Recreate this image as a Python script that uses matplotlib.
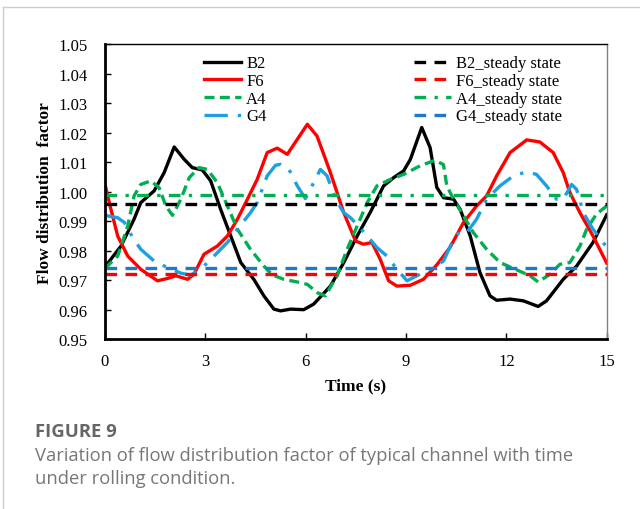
import numpy as np
import matplotlib
matplotlib.use('Agg')
import matplotlib.pyplot as plt
from matplotlib.lines import Line2D

# =============================================================================
#                     Data
# =============================================================================

b2_t = [0.0, 0.48, 0.87, 1.07, 1.47, 1.77, 2.07, 2.37, 2.61, 2.91, 3.16, 3.46,
        3.76, 4.06, 4.45, 4.75, 5.05, 5.25, 5.55, 5.94, 6.24, 6.74, 7.14, 7.54,
        7.93, 8.33, 8.63, 8.93, 9.13, 9.47, 9.72, 9.92, 10.12, 10.42, 10.62,
        10.92, 11.21, 11.51, 11.71, 12.11, 12.51, 12.95, 13.20, 13.70, 14.10,
        14.59, 15.0]
b2_v = [0.9745, 0.9816, 0.9907, 0.9963, 1.0003, 1.0065, 1.0152, 1.0110, 1.0082,
        1.0074, 1.0037, 0.9940, 0.9850, 0.9760, 0.9703, 0.9647, 0.9602, 0.9596,
        0.9602, 0.9600, 0.9619, 0.9680, 0.9760, 0.9850, 0.9930, 1.0020, 1.0048,
        1.0071, 1.0110, 1.0218, 1.0150, 1.0015, 0.9980, 0.9975, 0.9940, 0.9850,
        0.9726, 0.9647, 0.9632, 0.9636, 0.9630, 0.9611, 0.9630, 0.9703, 0.9748,
        0.9828, 0.9922]

f6_t = [0.0, 0.18, 0.38, 0.68, 1.07, 1.57, 1.87, 2.12, 2.47, 2.66, 2.96, 3.36,
        3.66, 3.96, 4.26, 4.55, 4.85, 5.15, 5.45, 5.75, 6.05, 6.34, 6.74, 7.14,
        7.49, 7.73, 7.98, 8.23, 8.48, 8.73, 9.13, 9.52, 9.92, 10.32, 10.72,
        11.11, 11.41, 11.71, 12.11, 12.61, 13.0, 13.40, 13.70, 13.90, 14.20,
        14.59, 15.0]
f6_v = [1.0025, 0.9940, 0.9850, 0.9782, 0.9737, 0.9698, 0.9706, 0.9715, 0.9703,
        0.9720, 0.9788, 0.9816, 0.9850, 0.9907, 0.9975, 1.0042, 1.0133, 1.0148,
        1.0127, 1.0178, 1.0229, 1.0189, 1.0065, 0.9929, 0.9833, 0.9822, 0.9828,
        0.9771, 0.9698, 0.9680, 0.9683, 0.9703, 0.9752, 0.9812, 0.9896, 0.9952,
        0.9986, 1.0054, 1.0133, 1.0176, 1.0169, 1.0133, 1.0065, 0.9997, 0.9929,
        0.9850, 0.9758]

a4_t = [0.0, 0.38, 0.68, 0.87, 1.07, 1.37, 1.62, 1.82, 2.02, 2.27, 2.52, 2.81,
        3.06, 3.36, 3.66, 3.96, 4.35, 4.75, 5.0, 5.35, 5.75, 6.05, 6.34, 6.59,
        6.94, 7.24, 7.54, 7.84, 8.13, 8.53, 8.93, 9.42, 9.87, 10.12, 10.22,
        10.42, 10.72, 11.01, 11.41, 11.81, 12.31, 12.71, 12.95, 13.30, 13.60,
        13.90, 14.20, 14.40, 14.69, 15.0]
a4_v = [0.9740, 0.9782, 0.9884, 0.9986, 1.0025, 1.0037, 1.0014, 0.9952, 0.9920,
        0.9975, 1.0048, 1.0082, 1.0076, 1.0031, 0.9952, 0.9873, 0.9805, 0.9748,
        0.9718, 0.9703, 0.9694, 0.9686, 0.9658, 0.9647, 0.9715, 0.9805, 0.9884,
        0.9963, 1.0020, 1.0042, 1.0059, 1.0088, 1.0107, 1.0092, 1.0020, 0.9975,
        0.9918, 0.9862, 0.9805, 0.9760, 0.9735, 0.9715, 0.9694, 0.9720, 0.9754,
        0.9760, 0.9816, 0.9873, 0.9924, 0.9952]

g4_t = [0.0, 0.38, 0.58, 0.83, 1.07, 1.47, 1.87, 2.27, 2.56, 2.86, 3.26, 3.66,
        3.96, 4.35, 4.55, 4.85, 5.10, 5.25, 5.50, 5.75, 5.99, 6.19, 6.44, 6.64,
        6.89, 7.14, 7.34, 7.58, 7.84, 8.13, 8.43, 8.73, 9.03, 9.32, 9.72, 10.12,
        10.42, 10.62, 10.82, 11.11, 11.41, 11.81, 12.21, 12.61, 12.90, 13.20,
        13.50, 13.70, 13.95, 14.10, 14.30, 14.59, 15.0]
g4_v = [0.9920, 0.9912, 0.9896, 0.9845, 0.9805, 0.9765, 0.9743, 0.9724, 0.9717,
        0.9737, 0.9782, 0.9828, 0.9873, 0.9929, 0.9963, 1.0054, 1.0090, 1.0093,
        1.0076, 1.0020, 0.9977, 1.0020, 1.0076, 1.0054, 0.9975, 0.9929, 0.9912,
        0.9884, 0.9850, 0.9811, 0.9782, 0.9737, 0.9698, 0.9715, 0.9737, 0.9765,
        0.9839, 0.9867, 0.9862, 0.9907, 0.9975, 1.0020, 1.0054, 1.0068, 1.0059,
        1.0020, 0.9975, 0.9975, 1.0025, 1.0008, 0.9929, 0.9873, 0.9812]

# steady state values
b2_ss = 0.996
f6_ss = 0.972
a4_ss = 0.999
g4_ss = 0.974

# =============================================================================
#                                  Figure
# =============================================================================

plt.rcParams['font.family'] = 'Liberation Serif'

fig = plt.figure(figsize=(6.4, 5.1), dpi=100)
ax = fig.add_axes([0.164, 0.333, 0.784, 0.578])

black = '#000000'
red = '#ff0000'
green = '#00b050'
blue = '#1ba1e2'
blue_ss = '#1f78d0'

lw = 2.4
ax.plot(b2_t, b2_v, color=black, lw=lw, label='B2')
ax.plot(f6_t, f6_v, color=red, lw=lw, label='F6')
ax.plot(a4_t, a4_v, color=green, lw=lw, ls=(0, (3, 1.6)), label='A4')
ax.plot(g4_t, g4_v, color=blue, lw=lw, ls=(0, (7, 3, 1, 3)), label='G4')

ax.axhline(b2_ss, color=black, lw=lw, ls=(0, (3.5, 2.5)), label='B2_steady state')
ax.axhline(f6_ss, color=red, lw=lw, ls=(0, (3.5, 2.5)), label='F6_steady state')
ax.axhline(a4_ss, color=green, lw=lw, ls=(0, (3.5, 2.5, 1, 2.5)), label='A4_steady state')
ax.axhline(g4_ss, color=blue_ss, lw=lw, ls=(0, (3.5, 2.5)), label='G4_steady state')

ax.set_xlim(0, 15)
ax.set_ylim(0.95, 1.05)
ax.set_xticks(np.arange(0, 16, 3))
ax.set_yticks(np.arange(0.95, 1.0501, 0.01))
ax.yaxis.set_major_formatter(matplotlib.ticker.FormatStrFormatter('%.2f'))
ax.tick_params(direction='in', length=4, width=1, labelsize=12)
ax.tick_params(axis='y', pad=12.5)
ax.tick_params(axis='x', pad=10)

for s in ['left', 'bottom']:
    ax.spines[s].set_linewidth(2)
ax.spines['top'].set_linewidth(1)
ax.spines['right'].set_linewidth(1)
ax.spines['right'].set_color('#808080')

ax.set_xlabel('Time (s)', fontsize=12.5, fontweight='bold', labelpad=6)
ax.set_ylabel('Flow distribution  factor', fontsize=12.5, fontweight='bold', labelpad=4)

handles, labels = ax.get_legend_handles_labels()
leg1 = ax.legend(handles[:4], labels[:4], loc='upper left', bbox_to_anchor=(0.185, 0.985),
                 frameon=False, fontsize=12, handlelength=2.2, handletextpad=0.3,
                 labelspacing=0.1, borderaxespad=0)
ax.add_artist(leg1)
ax.legend(handles[4:], labels[4:], loc='upper left', bbox_to_anchor=(0.603, 0.985),
          frameon=False, fontsize=12, handlelength=2.2, handletextpad=0.3,
          labelspacing=0.1, borderaxespad=0)

# caption area
fig.add_artist(Line2D([0.005, 0.005], [0, 0.984], color='#cccccc', lw=1))
fig.add_artist(Line2D([0.005, 1.0], [0.984, 0.984], color='#cccccc', lw=1))
fig.text(0.055, 0.152, 'FIGURE 9', fontsize=13.3, fontweight='bold', color='#666666',
         family='Open Sans', va='center')
fig.text(0.055, 0.083, 'Variation of flow distribution factor of typical channel with time\n'
         'under rolling condition.', fontsize=13.2, color='#777777', family='Open Sans',
         va='center', linespacing=1.4)

fig.savefig('out.png', dpi=100)
